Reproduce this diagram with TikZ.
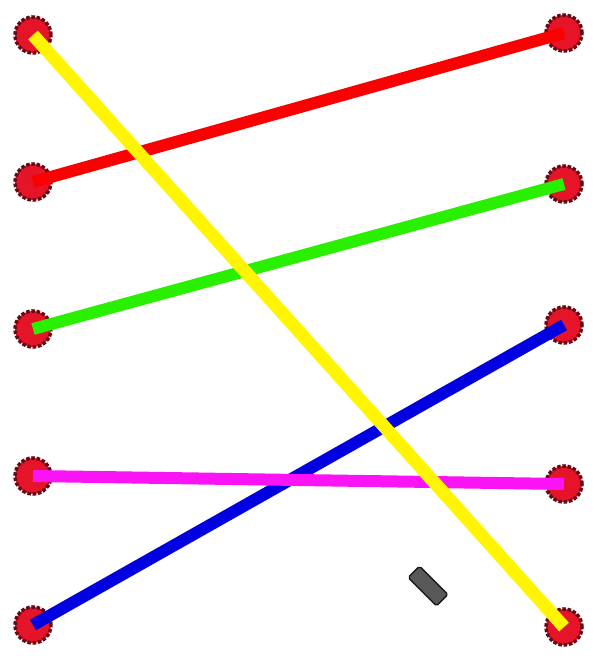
\documentclass[tikz,border=0pt]{standalone}
\usetikzlibrary{positioning}
\definecolor{pinred}{RGB}{230,20,40}
\definecolor{pinrim}{RGB}{100,10,20}
\definecolor{wred}{RGB}{250,0,0}
\definecolor{wgreen}{RGB}{40,240,0}
\definecolor{wblue}{RGB}{0,0,225}
\definecolor{wpink}{RGB}{250,20,245}
\definecolor{wyellow}{RGB}{255,245,0}
\tikzset{
  pin/.style={circle,fill=pinred,draw=pinrim,line width=2pt,densely dotted,
    minimum size=0.72cm,inner sep=0pt},
  wire/.style={line width=0.24cm,draw=#1},
  wire/.default=wred,
  chip/.style={rectangle,fill=black!65,draw=black!90,thick,rounded corners=1pt,
    minimum width=0.8cm,minimum height=0.32cm,inner sep=0pt,rotate=-45},
}
\begin{document}
\begin{tikzpicture}[x=0.02cm,y=-0.02cm]
  \useasboundingbox (0,0) rectangle (593,658);
  % pins, left and right
  \foreach \n/\y in {1/35,2/182,3/329,4/476,5/625}
    \node[pin] (l\n) at (33,\y) {};
  \foreach \n/\y in {1/33,2/184,3/325,4/484,5/627}
    \node[pin] (r\n) at (564,\y) {};
  \node[chip] (part) at (428,586) {};
  % wires
  \draw[wire=wblue] (l5.center) -- (r3.center);
  \draw[wire=wpink] (l4.center) -- (r4.center);
  \draw[wire=wred] (l2.center) -- (r1.center);
  \draw[wire=wgreen] (l3.center) -- (r2.center);
  \draw[wire=wyellow,line width=0.26cm] (l1.center) -- (r5.center);
\end{tikzpicture}
\end{document}
